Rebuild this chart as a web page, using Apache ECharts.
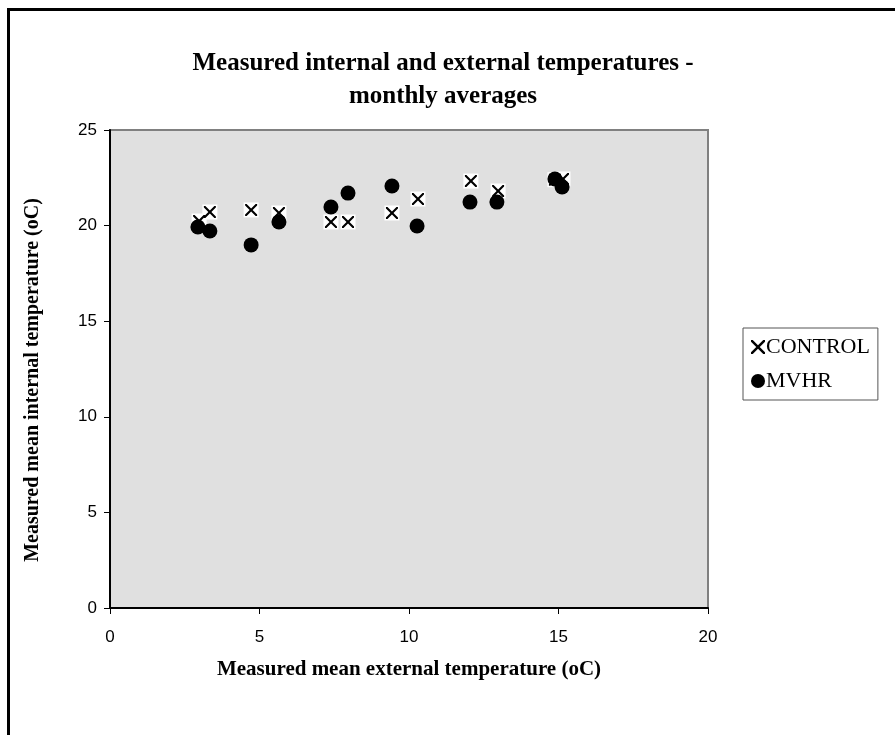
<!DOCTYPE html>
<html>
<head>
<meta charset="utf-8">
<script src="https://cdn.jsdelivr.net/npm/echarts@6/dist/echarts.min.js"></script>
<style>
html,body{margin:0;padding:0;background:#fff;}
#frame{position:absolute;left:7px;top:8px;width:900px;height:740px;border-left:3px solid #000;border-top:3px solid #000;}
#chart{position:absolute;left:0;top:0;width:895px;height:735px;}
</style>
</head>
<body>
<div id="frame"></div>
<div id="chart"></div>
<script>
const titleText = 'Measured internal and external temperatures -\nmonthly averages';
const xAxisName = 'Measured mean external temperature (oC)';
const yAxisName = 'Measured mean internal temperature (oC)';
const seriesNames = ['CONTROL', 'MVHR'];
const externalControl = [2.98, 3.34, 4.72, 5.65, 7.39, 7.96, 9.43, 10.30, 12.07, 12.98, 14.88, 15.15];
const internalControl = [20.24, 20.71, 20.82, 20.66, 20.19, 20.19, 20.66, 21.39, 22.33, 21.81, 22.40, 22.44];
const externalMVHR = [2.94, 3.34, 4.72, 5.65, 7.39, 7.96, 9.43, 10.27, 12.04, 12.94, 14.88, 15.12];
const internalMVHR = [19.93, 19.72, 18.99, 20.19, 20.97, 21.70, 22.07, 19.98, 21.23, 21.23, 22.44, 22.02];
const xTicks = [0, 5, 10, 15, 20];
const yTicks = [0, 5, 10, 15, 20, 25];

const controlData = externalControl.map((x, i) => [x, internalControl[i]]);
const mvhrData = externalMVHR.map((x, i) => [x, internalMVHR[i]]);
const crossPath = 'path://M0,0 L2.5,0 L10,7.5 L17.5,0 L20,0 L20,2.5 L12.5,10 L20,17.5 L20,20 L17.5,20 L10,12.5 L2.5,20 L0,20 L0,17.5 L7.5,10 L0,2.5 Z';

const chart = echarts.init(document.getElementById('chart'), null, {renderer: 'canvas'});
chart.setOption({
  animation: false,
  backgroundColor: 'transparent',
  title: {
    text: titleText,
    left: 438, top: 42, textAlign: 'center',
    textStyle: {fontFamily: 'Liberation Serif', fontWeight: 'bold', fontSize: 25, lineHeight: 33, color: '#000'}
  },
  grid: {left: 110, top: 130, width: 598, height: 478, show: true, backgroundColor: '#e0e0e0', borderColor: '#808080', borderWidth: 2},
  legend: {
    orient: 'vertical', left: 743, top: 328,
    data: [{name: 'CONTROL', icon: crossPath}, {name: 'MVHR', icon: 'circle'}],
    itemWidth: 14, itemHeight: 14, itemGap: 12, padding: [8, 8, 8, 8],
    borderColor: '#555', borderWidth: 1, backgroundColor: '#fff',
    textStyle: {fontFamily: 'Liberation Serif', fontSize: 22, color: '#000', padding: [0, 0, 0, -4]}
  },
  xAxis: {
    type: 'value', min: xTicks[0], max: xTicks[xTicks.length - 1], interval: 5,
    name: xAxisName, nameLocation: 'middle', nameGap: 51,
    nameTextStyle: {fontFamily: 'Liberation Serif', fontWeight: 'bold', fontSize: 21, color: '#000'},
    axisLine: {onZero: false, lineStyle: {color: '#000', width: 2}},
    axisTick: {length: 6, lineStyle: {color: '#000'}},
    axisLabel: {margin: 21, fontFamily: 'Liberation Sans', fontSize: 17, color: '#000'},
    splitLine: {show: false}
  },
  yAxis: {
    type: 'value', min: yTicks[0], max: yTicks[yTicks.length - 1], interval: 5,
    name: yAxisName, nameLocation: 'middle', nameGap: 67,
    nameTextStyle: {fontFamily: 'Liberation Serif', fontWeight: 'bold', fontSize: 20, color: '#000', padding: [0, 22, 0, 0]},
    axisLine: {show: true, onZero: false, lineStyle: {color: '#000', width: 2}},
    axisTick: {show: true, length: 6, lineStyle: {color: '#000'}},
    axisLabel: {margin: 13, fontFamily: 'Liberation Sans', fontSize: 17, color: '#000'},
    splitLine: {show: false}
  },
  series: [
    {name: 'CONTROL_bg', type: 'scatter', data: controlData, symbol: 'rect', symbolSize: 15,
     itemStyle: {color: '#fff', opacity: 1}, silent: true, z: 2},
    {name: 'CONTROL', type: 'scatter', data: controlData, symbol: crossPath, symbolSize: 12,
     itemStyle: {color: '#000', opacity: 1}, z: 3},
    {name: 'MVHR', type: 'scatter', data: mvhrData, symbol: 'circle', symbolSize: 15,
     itemStyle: {color: '#000', opacity: 1}, z: 4}
  ]
});
</script>
</body>
</html>
